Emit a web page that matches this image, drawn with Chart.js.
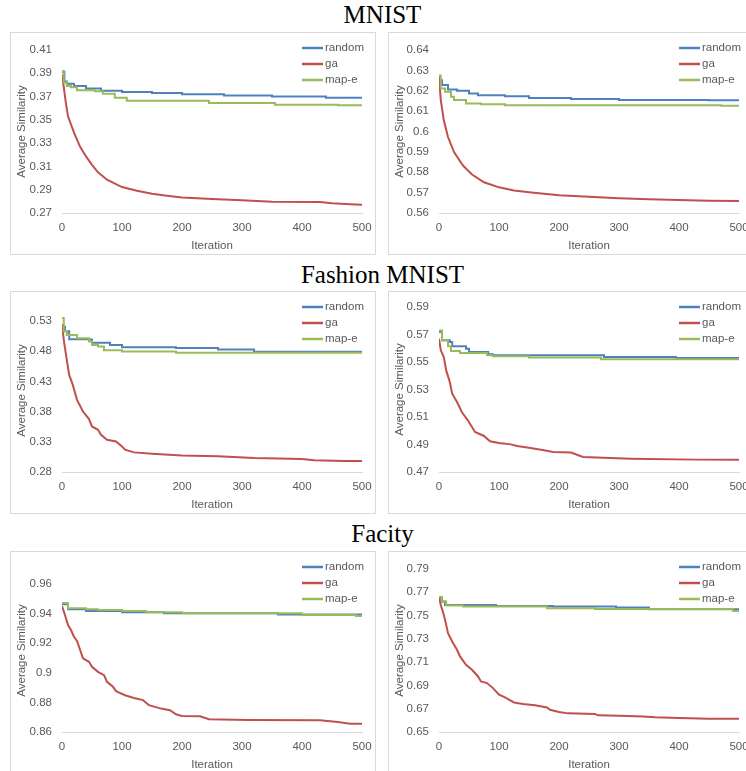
<!DOCTYPE html>
<html>
<head>
<meta charset="utf-8">
<script src="https://cdn.jsdelivr.net/npm/chart.js@4.4.1/dist/chart.umd.min.js"></script>
<style>
  body { margin: 0; width: 746px; height: 771px; overflow: hidden; background: #fff; position: relative; }
  .title { position: absolute; left: 0; width: 765px; text-align: center; font-family: "Liberation Serif", serif; font-size: 25px; line-height: 25px; color: #000; }
  .panel { position: absolute; width: 366px; height: 223px; border: 1px solid #d9d9d9; box-sizing: border-box; }
  canvas { position: absolute; }
</style>
</head>
<body>
<div class="title" style="top:2px">MNIST</div>
<div class="title" style="top:262px">Fashion MNIST</div>
<div class="title" style="top:521px">Facity</div>

<script>
// iteration axis
const xTicks = [0, 100, 200, 300, 400, 500]
const seriesNames = ["random", "ga", "map-e"]
const seriesColors = ["#4f81bd", "#c0504d", "#9bbb59"]

// MNIST, left
const mnistLeftTicks = [0.27, 0.29, 0.31, 0.33, 0.35, 0.37, 0.39, 0.41]
const mnistLeftRandom = [[0, 0.391], [4, 0.383], [8, 0.381], [20, 0.379], [40, 0.377], [65, 0.375], [100, 0.374], [150, 0.373], [200, 0.372], [270, 0.371], [350, 0.370], [440, 0.369], [500, 0.369]]
const mnistLeftGa = [[0, 0.389], [3, 0.378], [6, 0.366], [10, 0.353], [20, 0.339], [30, 0.327], [40, 0.3186], [50, 0.3114], [60, 0.3049], [75, 0.2986], [100, 0.2923], [125, 0.2891], [150, 0.2866], [175, 0.2849], [200, 0.2834], [250, 0.282], [300, 0.2809], [350, 0.2797], [430, 0.2794], [450, 0.2783], [480, 0.2775], [500, 0.2771]]
const mnistLeftMapE = [[0, 0.392], [3, 0.382], [8, 0.379], [15, 0.378], [25, 0.3755], [55, 0.3745], [68, 0.3725], [88, 0.369], [108, 0.3665], [245, 0.3645], [355, 0.363], [460, 0.3625], [500, 0.3625]]

// MNIST, right
const mnistRightTicks = [0.56, 0.57, 0.58, 0.59, 0.6, 0.61, 0.62, 0.63, 0.64]
const mnistRightRandom = [[0, 0.6252], [5, 0.6228], [15, 0.6206], [30, 0.62], [50, 0.6187], [65, 0.6178], [110, 0.6173], [150, 0.6165], [220, 0.616], [300, 0.6155], [450, 0.6153], [500, 0.6152]]
const mnistRightGa = [[0, 0.627], [3, 0.6154], [8, 0.6055], [15, 0.5973], [25, 0.5899], [40, 0.5833], [55, 0.5789], [75, 0.5751], [100, 0.5726], [125, 0.571], [150, 0.5702], [200, 0.5687], [250, 0.568], [300, 0.5672], [350, 0.5667], [400, 0.5664], [450, 0.566], [500, 0.5659]]
const mnistRightMapE = [[0, 0.6275], [3, 0.6211], [10, 0.6195], [20, 0.617], [25, 0.6154], [45, 0.6137], [70, 0.6134], [110, 0.6129], [470, 0.6126], [500, 0.6126]]

// Fashion MNIST, left
const fashionLeftTicks = [0.28, 0.33, 0.38, 0.43, 0.48, 0.53]
const fashionLeftRandom = [[0, 0.5206], [5, 0.513], [12, 0.5], [45, 0.4995], [50, 0.494], [80, 0.4905], [100, 0.4865], [190, 0.4855], [260, 0.483], [320, 0.479], [500, 0.479]]
const fashionLeftGa = [[0, 0.525], [3, 0.4986], [8, 0.4656], [12, 0.4408], [18, 0.4243], [25, 0.3995], [35, 0.3802], [45, 0.3676], [50, 0.3554], [60, 0.3499], [65, 0.3417], [75, 0.3334], [90, 0.3306], [100, 0.3224], [105, 0.3169], [120, 0.3125], [150, 0.3103], [200, 0.3075], [260, 0.3059], [320, 0.3031], [400, 0.3015], [420, 0.2993], [470, 0.2982], [500, 0.2982]]
const fashionLeftMapE = [[0, 0.535], [3, 0.513], [8, 0.507], [25, 0.5015], [45, 0.496], [50, 0.4905], [60, 0.488], [70, 0.4815], [100, 0.4795], [190, 0.4775], [500, 0.4775]]

// Fashion MNIST, right
const fashionRightTicks = [0.47, 0.49, 0.51, 0.53, 0.55, 0.57, 0.59]
const fashionRightRandom = [[0, 0.5718], [5, 0.5658], [18, 0.5645], [22, 0.5614], [45, 0.5597], [50, 0.5573], [82, 0.5556], [90, 0.5549], [275, 0.5536], [395, 0.5529], [500, 0.5529]]
const fashionRightGa = [[0, 0.567], [3, 0.5585], [8, 0.5536], [12, 0.5439], [18, 0.5355], [22, 0.527], [30, 0.5209], [38, 0.5136], [48, 0.5076], [55, 0.5027], [60, 0.4991], [75, 0.4962], [85, 0.4923], [100, 0.4911], [120, 0.4901], [130, 0.4889], [150, 0.4877], [175, 0.4858], [190, 0.4845], [220, 0.4841], [240, 0.4809], [320, 0.4797], [430, 0.479], [500, 0.479]]
const fashionRightMapE = [[0, 0.573], [5, 0.5658], [15, 0.5614], [20, 0.558], [35, 0.5565], [80, 0.5549], [90, 0.5541], [150, 0.5532], [270, 0.552], [500, 0.5518]]

// Facity, left
const facityLeftTicks = [0.86, 0.88, 0.9, 0.92, 0.94, 0.96]
const facityLeftRandom = [[0, 0.9462], [10, 0.9428], [40, 0.9417], [100, 0.9408], [170, 0.9401], [360, 0.9393], [500, 0.9393]]
const facityLeftGa = [[0, 0.945], [5, 0.939], [10, 0.9322], [15, 0.9288], [20, 0.9243], [25, 0.9214], [35, 0.9097], [45, 0.9074], [50, 0.904], [60, 0.9006], [70, 0.8984], [75, 0.8939], [85, 0.8905], [90, 0.8876], [105, 0.8848], [120, 0.883], [135, 0.8815], [145, 0.8781], [165, 0.8758], [180, 0.8747], [190, 0.872], [200, 0.8708], [230, 0.8706], [245, 0.8686], [310, 0.8681], [430, 0.8679], [460, 0.8668], [480, 0.8656], [500, 0.8656]]
const facityLeftMapE = [[0, 0.947], [10, 0.9435], [40, 0.9428], [60, 0.9424], [100, 0.9417], [140, 0.9408], [200, 0.9401], [400, 0.939], [490, 0.9383], [500, 0.9383]]

// Facity, right
const facityRightTicks = [0.65, 0.67, 0.69, 0.71, 0.73, 0.75, 0.77, 0.79]
const facityRightRandom = [[0, 0.7649], [5, 0.762], [10, 0.7591], [95, 0.7583], [190, 0.7577], [295, 0.7569], [350, 0.7554], [500, 0.7549]]
const facityRightGa = [[0, 0.766], [3, 0.7591], [8, 0.7506], [12, 0.742], [15, 0.7349], [22, 0.7277], [30, 0.7206], [35, 0.7149], [45, 0.7077], [55, 0.7034], [65, 0.6977], [70, 0.6934], [80, 0.692], [90, 0.6877], [100, 0.682], [110, 0.6797], [125, 0.6754], [140, 0.674], [160, 0.6729], [180, 0.6711], [185, 0.6691], [200, 0.6671], [215, 0.666], [260, 0.6654], [265, 0.6643], [300, 0.664], [340, 0.6634], [360, 0.6626], [400, 0.662], [450, 0.6614], [500, 0.6614]]
const facityRightMapE = [[0, 0.766], [5, 0.762], [12, 0.7586], [40, 0.7577], [180, 0.7563], [260, 0.7557], [490, 0.754], [500, 0.754]]

const panels = [
    { left: 10, top: 32, plotLeft: 52, padTop: 18, yTicks: mnistLeftTicks, yMax: 0.41, series: [mnistLeftRandom, mnistLeftGa, mnistLeftMapE] },
    { left: 388, top: 32, plotLeft: 51, padTop: 18, yTicks: mnistRightTicks, yMax: 0.64, series: [mnistRightRandom, mnistRightGa, mnistRightMapE] },
    { left: 10, top: 291, plotLeft: 52, padTop: 18, yTicks: fashionLeftTicks, yMax: 0.55, series: [fashionLeftRandom, fashionLeftGa, fashionLeftMapE] },
    { left: 388, top: 291, plotLeft: 51, padTop: 16, yTicks: fashionRightTicks, yMax: 0.59, series: [fashionRightRandom, fashionRightGa, fashionRightMapE] },
    { left: 10, top: 551, plotLeft: 52, padTop: 18, yTicks: facityLeftTicks, yMax: 0.97, series: [facityLeftRandom, facityLeftGa, facityLeftMapE] },
    { left: 388, top: 551, plotLeft: 51, padTop: 18, yTicks: facityRightTicks, yMax: 0.79, series: [facityRightRandom, facityRightGa, facityRightMapE] },
]

const textColor = "#595959"
const axisFont = { family: "'Liberation Sans', Arial, sans-serif", size: 11.5 }

// legend drawn inside the plot, top right, one entry per row
const lineLegend = {
    id: "lineLegend",
    afterDraw(chart) {
        const ctx = chart.ctx
        const x0 = chart.chartArea.right - 60
        ctx.save()
        ctx.font = "11.5px 'Liberation Sans', Arial, sans-serif"
        ctx.textBaseline = "middle"
        chart.data.datasets.forEach((ds, i) => {
            const y = 16 + i * 16
            ctx.strokeStyle = ds.borderColor
            ctx.lineWidth = 2.5
            ctx.beginPath()
            ctx.moveTo(x0, y)
            ctx.lineTo(x0 + 21, y)
            ctx.stroke()
            ctx.fillStyle = textColor
            ctx.fillText(ds.label, x0 + 23, y)
        })
        ctx.restore()
    },
}

panels.forEach((p) => {
    const box = document.createElement("div")
    box.className = "panel"
    box.style.left = p.left + "px"
    box.style.top = p.top + "px"
    document.body.appendChild(box)

    const canvas = document.createElement("canvas")
    canvas.width = 365
    canvas.height = 222
    canvas.style.left = p.left + "px"
    canvas.style.top = p.top + "px"
    document.body.appendChild(canvas)

    new Chart(canvas, {
        type: "line",
        data: {
            datasets: p.series.map((pts, i) => ({
                label: seriesNames[i],
                data: pts.map(([x, y]) => ({ x, y })),
                borderColor: seriesColors[i],
                borderWidth: 2,
                pointRadius: 0,
                stepped: i === 1 ? false : "before",
                order: 2 - i,
            })),
        },
        plugins: [lineLegend],
        options: {
            responsive: false,
            animation: false,
            layout: { padding: { top: p.padTop, right: 365 - p.plotLeft - 300, bottom: 0, left: 0 } },
            plugins: { legend: { display: false }, tooltip: { enabled: false } },
            scales: {
                x: {
                    type: "linear",
                    min: 0,
                    max: 500,
                    afterBuildTicks: (s) => { s.ticks = xTicks.map((v) => ({ value: v })) },
                    afterFit: (s) => { s.height = 41; s.paddingLeft = 0; s.paddingRight = 0 },
                    grid: { display: false, drawTicks: false },
                    border: { display: true, color: "#d9d9d9", width: 1 },
                    ticks: { color: textColor, font: axisFont, padding: 8, maxRotation: 0, autoSkip: false },
                    title: { display: true, text: "Iteration", color: textColor, font: axisFont, padding: { top: 0, bottom: 1 } },
                },
                y: {
                    type: "linear",
                    min: p.yTicks[0],
                    max: p.yMax,
                    afterBuildTicks: (s) => { s.ticks = p.yTicks.map((v) => ({ value: v })) },
                    afterFit: (s) => { s.width = p.plotLeft; s.paddingTop = 0; s.paddingBottom = 0 },
                    grid: { display: false, drawTicks: false },
                    border: { display: false },
                    ticks: { color: textColor, font: axisFont, padding: 10, autoSkip: false, callback: (v) => String(v) },
                    title: { display: true, text: "Average Similarity", color: textColor, font: axisFont, padding: { top: 5, bottom: 0 } },
                },
            },
        },
    })
})
</script>
</body>
</html>
